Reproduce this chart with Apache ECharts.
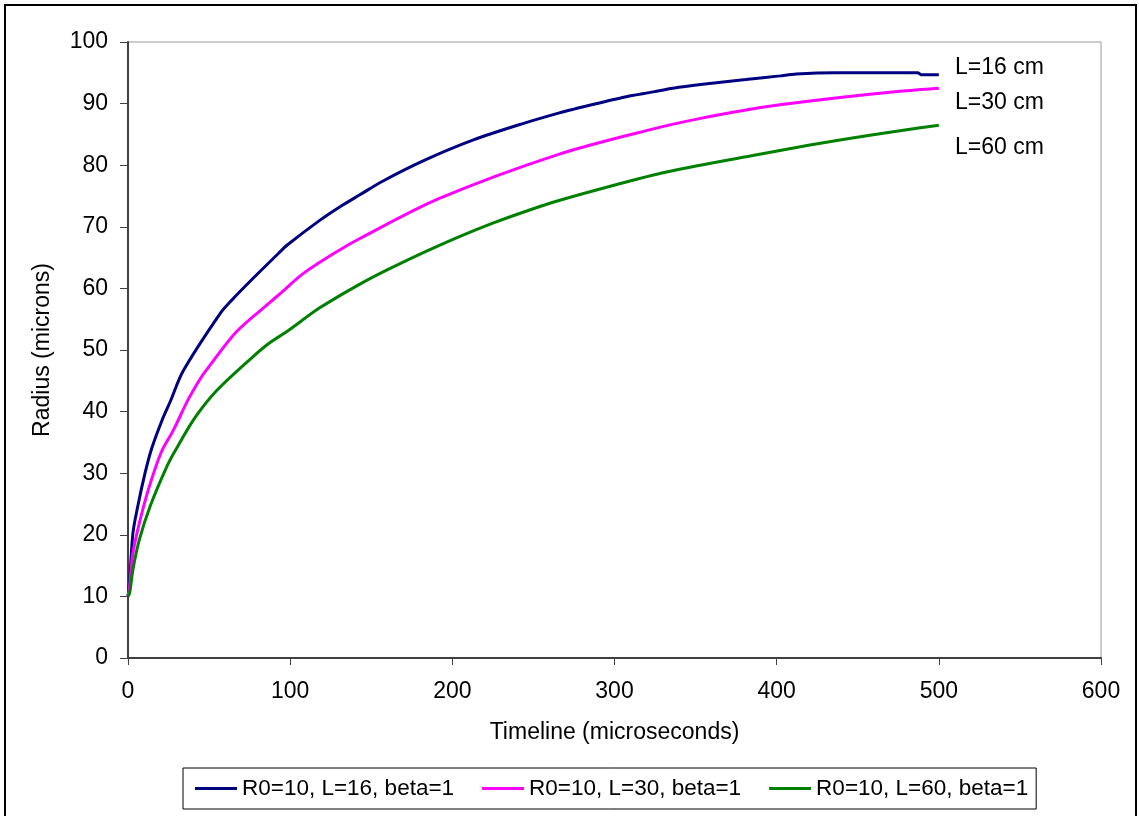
<!DOCTYPE html>
<html>
<head>
<meta charset="utf-8">
<script src="https://cdn.jsdelivr.net/npm/echarts@6/dist/echarts.min.js"></script>
<style>
  html, body { margin: 0; padding: 0; background: #fff; }
  #main { width: 1139px; height: 816px; }
</style>
</head>
<body>
<div id="main"></div>
<script>
// values (time in microseconds, radius in microns)
const timeL16 = [0, 1, 3, 6, 10.5, 14.6, 21, 26, 34, 57, 64, 77, 94, 98, 118, 131, 143, 157, 182, 213, 244, 266, 275, 305, 324, 336, 353, 381, 402, 412, 436, 487, 489, 500];
const radiusL16 = [10, 12.4, 20.2, 24.6, 30.0, 34.0, 38.6, 41.6, 46.6, 56.0, 58.1, 61.6, 66.0, 67.0, 71.0, 73.3, 75.2, 77.4, 80.7, 84.1, 86.8, 88.5, 89.1, 91.0, 91.9, 92.5, 93.1, 93.9, 94.5, 94.8, 95.0, 95.0, 94.7, 94.7];

const timeL30 = [0, 1, 3, 7, 12.5, 20.5, 28, 37, 44, 48.5, 67, 87, 94, 108, 129, 143, 192, 266, 324, 353, 382, 402, 439, 476, 500];
const radiusL30 = [10, 11.6, 17.0, 21.9, 27.3, 33.4, 37.0, 41.9, 45.1, 46.8, 53.0, 57.6, 59.2, 62.4, 66.0, 68.1, 74.6, 81.8, 85.9, 87.6, 89.0, 89.8, 91.0, 92.0, 92.5];

const timeL60 = [0, 1, 3, 7, 13.6, 24, 29, 41, 55, 77, 87, 98, 118, 143, 162, 192, 223, 254, 270, 324, 353, 382, 402, 439, 476, 500];
const radiusL60 = [10, 10.5, 14.3, 19.2, 24.6, 31.1, 33.6, 38.9, 43.5, 48.9, 51.1, 53.0, 56.8, 60.7, 63.3, 67.0, 70.4, 73.3, 74.6, 78.4, 80.0, 81.4, 82.4, 84.1, 85.6, 86.5];

const seriesNames = ['R0=10, L=16, beta=1', 'R0=10, L=30, beta=1', 'R0=10, L=60, beta=1'];
const endNotes = ['L=16 cm', 'L=30 cm', 'L=60 cm'];

const font = 'Arial, "Liberation Sans", sans-serif';

function pairs(xs, ys) {
  return xs.map((x, i) => [x, ys[i]]);
}

const chart = echarts.init(document.getElementById('main'), null, { renderer: 'canvas' });

function lineSeries(name, data, color) {
  return {
    name: name,
    type: 'line',
    data: data,
    symbol: 'none',
    smooth: 0.3,
    lineStyle: { color: color, width: 3 },
    itemStyle: { color: color }
  };
}

const option = {
  backgroundColor: '#fff',
  animation: false,
  textStyle: { fontFamily: font },
  grid: {
    left: 128, right: 38, top: 42, bottom: 158,
    show: true,
    borderColor: '#9a9a9a',
    borderWidth: 1
  },
  xAxis: {
    type: 'value',
    min: 0, max: 600, interval: 100,
    name: 'Timeline (microseconds)',
    nameLocation: 'middle',
    nameGap: 63,
    nameTextStyle: { fontSize: 23, color: '#000', fontFamily: font },
    axisLine: { show: true, lineStyle: { color: '#404040', width: 2 } },
    axisTick: { show: true, length: 7, lineStyle: { color: '#404040', width: 1 } },
    axisLabel: { fontSize: 23, color: '#000', margin: 22, fontFamily: font },
    splitLine: { show: false }
  },
  yAxis: {
    type: 'value',
    min: 0, max: 100, interval: 10,
    name: 'Radius (microns)',
    nameLocation: 'middle',
    nameGap: 74,
    nameTextStyle: { fontSize: 23, color: '#000', fontFamily: font },
    axisLine: { show: true, lineStyle: { color: '#404040', width: 2 } },
    axisTick: { show: true, length: 8, lineStyle: { color: '#404040', width: 1 } },
    axisLabel: { fontSize: 23, color: '#000', margin: 20, fontFamily: font },
    splitLine: { show: false }
  },
  legend: {
    left: 183,
    top: 768,
    orient: 'horizontal',
    icon: 'rect',
    itemWidth: 42,
    itemHeight: 3,
    itemGap: 28,
    padding: [9, 8, 9, 12],
    borderColor: '#000',
    borderWidth: 1,
    textStyle: { fontSize: 22.5, color: '#000', fontFamily: font },
    data: seriesNames
  },
  graphic: [
    {
      type: 'rect',
      shape: { x: 5, y: 5, width: 1131, height: 830 },
      style: { fill: 'none', stroke: '#000', lineWidth: 2 },
      silent: true
    },
    { type: 'text', left: 955, top: 56, style: { text: endNotes[0], font: '23px ' + font, fill: '#000' } },
    { type: 'text', left: 955, top: 91, style: { text: endNotes[1], font: '23px ' + font, fill: '#000' } },
    { type: 'text', left: 955, top: 136, style: { text: endNotes[2], font: '23px ' + font, fill: '#000' } }
  ],
  series: [
    lineSeries(seriesNames[0], pairs(timeL16, radiusL16), '#000080'),
    lineSeries(seriesNames[1], pairs(timeL30, radiusL30), '#ff00ff'),
    lineSeries(seriesNames[2], pairs(timeL60, radiusL60), '#008000')
  ]
};

chart.setOption(option);
</script>
</body>
</html>
